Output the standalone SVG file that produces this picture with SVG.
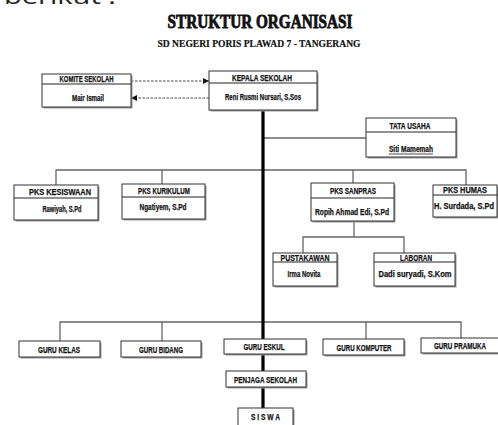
<svg xmlns="http://www.w3.org/2000/svg" width="498" height="425" viewBox="0 0 498 425">
<style>
.bx{fill:#fff;stroke:#333;stroke-width:1}
.sh{fill:#9a9a9a}
.sep{stroke:#222;stroke-width:1}
.t{font-family:"Liberation Sans Narrow","Liberation Sans",Arial,sans-serif;font-weight:bold;font-size:9px;fill:#111;stroke:#111;stroke-width:0.25;text-anchor:middle}
.ln{stroke:#666;stroke-width:1.3;fill:none}
.thick{stroke:#000;stroke-width:3.2;fill:none}
.dash{stroke:#444;stroke-width:1;stroke-dasharray:2.5,1.5;fill:none}
</style>
<defs>
<marker id="ah" viewBox="0 0 6 6" refX="6" refY="3" markerWidth="6" markerHeight="6" orient="auto" markerUnits="userSpaceOnUse">
<path d="M0,0 L6,3 L0,6 Z" fill="#111"/>
</marker>
</defs>
<rect width="498" height="425" fill="#fff"/>
<text x="4" y="4" font-family="'Open Sans','DejaVu Sans',sans-serif" font-size="22" fill="#222" textLength="112" lengthAdjust="spacingAndGlyphs">berikut :</text>
<text x="260" y="28" font-family="'Liberation Serif',serif" font-weight="bold" font-size="18" fill="#111" stroke="#111" stroke-width="0.8" text-anchor="middle" textLength="185" lengthAdjust="spacingAndGlyphs">STRUKTUR ORGANISASI</text>
<text x="259" y="47" font-family="'Liberation Serif',serif" font-weight="bold" font-size="11" fill="#111" stroke="#111" stroke-width="0.2" text-anchor="middle" textLength="203" lengthAdjust="spacingAndGlyphs">SD NEGERI PORIS PLAWAD 7 - TANGERANG</text>

<g id="connectors">
<line class="dash" x1="131" y1="81" x2="209" y2="81" marker-end="url(#ah)"/>
<line class="dash" x1="209" y1="98" x2="131" y2="98" marker-end="url(#ah)"/>
<line class="ln" x1="263" y1="138" x2="366" y2="138"/>
<polyline class="ln" points="56,185 56,170 466,170 466,185"/>
<line class="ln" x1="162" y1="170" x2="162" y2="184"/>
<line class="ln" x1="353" y1="170" x2="353" y2="183"/>
<line class="ln" x1="354" y1="221" x2="354" y2="237"/>
<polyline class="ln" points="303,253 303,237 404,237 404,253"/>
<polyline class="ln" points="60,341 60,322 461,322 461,338"/>
<line class="ln" x1="162" y1="322" x2="162" y2="341"/>
<line class="ln" x1="366" y1="322" x2="366" y2="339"/>
<line class="thick" x1="263" y1="110" x2="263" y2="408"/>
</g>

<g id="komite">
<rect class="sh" x="43.5" y="75.5" width="89" height="33"/>
<rect class="bx" x="42" y="74" width="89" height="33"/>
<line class="sep" x1="42" y1="84" x2="131" y2="84"/>
<text class="t" x="86.5" y="82" textLength="54" lengthAdjust="spacingAndGlyphs">KOMITE SEKOLAH</text>
<text class="t" x="88" y="101" textLength="32" lengthAdjust="spacingAndGlyphs">Mair Ismail</text>
</g>

<g id="kepala">
<rect class="sh" x="210.5" y="72.5" width="108" height="39"/>
<rect class="bx" x="209" y="71" width="108" height="39"/>
<line class="sep" x1="209" y1="83" x2="317" y2="83"/>
<text class="t" x="262" y="80.5" textLength="60" lengthAdjust="spacingAndGlyphs">KEPALA SEKOLAH</text>
<text class="t" x="263" y="100" textLength="76" lengthAdjust="spacingAndGlyphs">Reni Rusmi Nursari, S.Sos</text>
</g>

<g id="tata-usaha">
<rect class="sh" x="367.5" y="119.5" width="90" height="39"/>
<rect class="bx" x="366" y="118" width="90" height="39"/>
<line class="sep" x1="366" y1="132" x2="456" y2="132"/>
<text class="t" x="410" y="129" textLength="41" lengthAdjust="spacingAndGlyphs">TATA USAHA</text>
<text class="t" x="411" y="152" textLength="44" lengthAdjust="spacingAndGlyphs">Siti Mamemah</text>
<line x1="389" y1="154" x2="433" y2="154" stroke="#222" stroke-width="0.8"/>
</g>

<g id="pks-kesiswaan">
<rect class="sh" x="15.5" y="186.5" width="84" height="35"/>
<rect class="bx" x="14" y="185" width="84" height="35"/>
<line class="sep" x1="14" y1="198" x2="98" y2="198"/>
<text class="t" x="60" y="195" textLength="62" lengthAdjust="spacingAndGlyphs">PKS KESISWAAN</text>
<text class="t" x="62" y="212" textLength="39" lengthAdjust="spacingAndGlyphs">Rawiyah, S.Pd</text>
</g>

<g id="pks-kurikulum">
<rect class="sh" x="123.5" y="185.5" width="83" height="35"/>
<rect class="bx" x="122" y="184" width="83" height="35"/>
<line class="sep" x1="122" y1="197" x2="205" y2="197"/>
<text class="t" x="164" y="194" textLength="52" lengthAdjust="spacingAndGlyphs">PKS KURIKULUM</text>
<text class="t" x="163" y="210" textLength="47" lengthAdjust="spacingAndGlyphs">Ngatiyem, S.Pd</text>
</g>

<g id="pks-sanpras">
<rect class="sh" x="312.5" y="184.5" width="83" height="38"/>
<rect class="bx" x="311" y="183" width="83" height="38"/>
<line class="sep" x1="311" y1="198" x2="394" y2="198"/>
<text class="t" x="353" y="194" textLength="46" lengthAdjust="spacingAndGlyphs">PKS SANPRAS</text>
<text class="t" x="352" y="215" textLength="74" lengthAdjust="spacingAndGlyphs">Ropih Ahmad Edi, S.Pd</text>
</g>

<g id="pks-humas">
<rect class="sh" x="434.5" y="186.5" width="64" height="32"/>
<rect class="bx" x="433" y="185" width="64" height="32"/>
<line class="sep" x1="433" y1="195" x2="497" y2="195"/>
<text class="t" x="465" y="193" textLength="44" lengthAdjust="spacingAndGlyphs">PKS HUMAS</text>
<text class="t" x="464" y="209" textLength="60" lengthAdjust="spacingAndGlyphs">H. Surdada, S.Pd</text>
</g>

<g id="pustakawan">
<rect class="sh" x="274.5" y="254.5" width="64" height="33"/>
<rect class="bx" x="273" y="253" width="64" height="33"/>
<line class="sep" x1="273" y1="262" x2="337" y2="262"/>
<text class="t" x="305" y="260.5" textLength="49" lengthAdjust="spacingAndGlyphs">PUSTAKAWAN</text>
<text class="t" x="304" y="277" textLength="33" lengthAdjust="spacingAndGlyphs">Irma Novita</text>
</g>

<g id="laboran">
<rect class="sh" x="375.5" y="254.5" width="81" height="33"/>
<rect class="bx" x="374" y="253" width="81" height="33"/>
<line class="sep" x1="374" y1="262" x2="455" y2="262"/>
<text class="t" x="416" y="260.5" textLength="32" lengthAdjust="spacingAndGlyphs">LABORAN</text>
<text class="t" x="415" y="277" textLength="73" lengthAdjust="spacingAndGlyphs">Dadi suryadi, S.Kom</text>
</g>

<g id="guru-kelas">
<rect class="sh" x="20.5" y="342.5" width="81" height="16"/>
<rect class="bx" x="19" y="341" width="81" height="16"/>
<text class="t" x="59" y="352.5" textLength="42" lengthAdjust="spacingAndGlyphs">GURU KELAS</text>
</g>

<g id="guru-bidang">
<rect class="sh" x="122.5" y="342.5" width="80" height="16"/>
<rect class="bx" x="121" y="341" width="80" height="16"/>
<text class="t" x="161" y="352.5" textLength="44" lengthAdjust="spacingAndGlyphs">GURU BIDANG</text>
</g>

<g id="guru-eskul">
<rect class="sh" x="225.5" y="340.5" width="82" height="15"/>
<rect class="bx" x="224" y="339" width="82" height="15"/>
<text class="t" x="264" y="350" textLength="41" lengthAdjust="spacingAndGlyphs">GURU ESKUL</text>
</g>

<g id="guru-komputer">
<rect class="sh" x="324.5" y="340.5" width="81" height="16"/>
<rect class="bx" x="323" y="339" width="81" height="16"/>
<text class="t" x="364" y="350.5" textLength="55" lengthAdjust="spacingAndGlyphs">GURU KOMPUTER</text>
</g>

<g id="guru-pramuka">
<rect class="sh" x="422.5" y="339.5" width="80" height="15"/>
<rect class="bx" x="421" y="338" width="80" height="15"/>
<text class="t" x="460" y="349" textLength="52" lengthAdjust="spacingAndGlyphs">GURU PRAMUKA</text>
</g>

<g id="penjaga-sekolah">
<rect class="sh" x="227.5" y="372.5" width="80" height="16"/>
<rect class="bx" x="226" y="371" width="80" height="16"/>
<text class="t" x="265.5" y="382.5" textLength="63" lengthAdjust="spacingAndGlyphs">PENJAGA SEKOLAH</text>
</g>

<g id="siswa">
<rect class="sh" x="239.5" y="409.5" width="55" height="25"/>
<rect class="bx" x="238" y="408" width="55" height="25"/>
<text class="t" x="265.5" y="420" textLength="29" lengthAdjust="spacingAndGlyphs">S I S W A</text>
</g>
</svg>
